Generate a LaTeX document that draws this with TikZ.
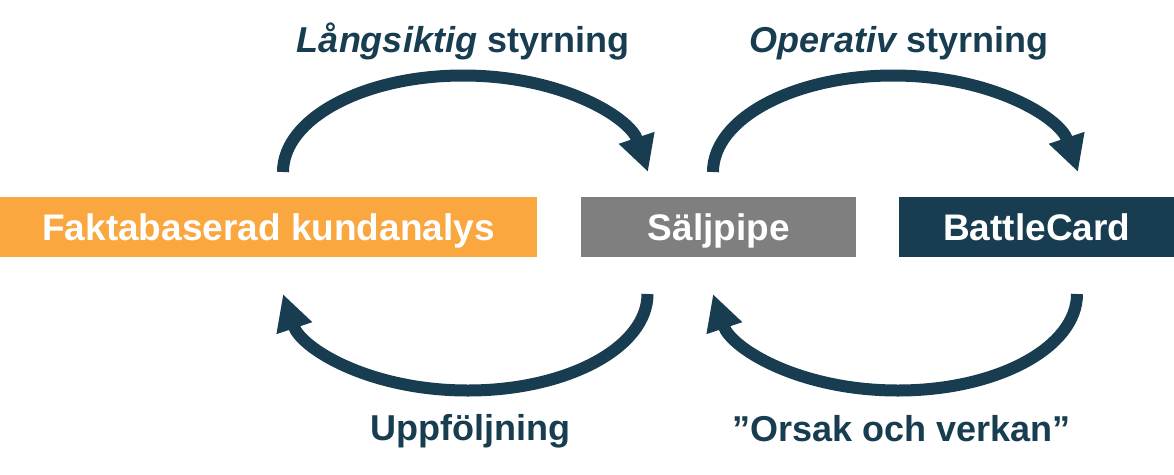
\documentclass[tikz,border=0pt]{standalone}
\usepackage{fontspec}
\setmainfont{Liberation Sans}
\usepackage{xcolor}
\usetikzlibrary{positioning,arrows.meta}

\definecolor{navy}{HTML}{183D51}
\definecolor{kund}{HTML}{F9A73E}
\definecolor{pipegray}{HTML}{7F7F7F}

\tikzset{
	box/.style={rectangle,inner sep=0pt,minimum height=60pt,text=white,
		text height=26.6pt,text depth=0pt,
		font=\fontsize{37}{40}\selectfont\bfseries},
	lbl/.style={anchor=base,text=navy,inner sep=0pt,
		font=\fontsize{36}{40}\selectfont\bfseries},
	loop/.style={draw=navy,line width=12pt,
		-{Triangle[length=36pt,width=35pt]},navy},
}

\begin{document}
\begin{tikzpicture}[x=1pt,y=-1pt]
		\useasboundingbox (0,0) rectangle (1174,474);
		% boxes
		\node[box,fill=kund,minimum width=537pt] at (268.5,227) (fakta) {Faktabaserad kundanalys};
		\node[box,fill=pipegray,minimum width=275pt,right=44pt of fakta] (pipe) {Säljpipe};
		\node[box,fill=navy,minimum width=276pt,right=42pt of pipe] (battle) {BattleCard};
		%
		\coordinate (s1) at (283,172);
		\coordinate (m1) at (463,75.5);
		\coordinate (e1) at (648,172);
		\coordinate (s2) at (713,172);
		\coordinate (m2) at (893,75.5);
		\coordinate (e2) at (1078,172);
		\coordinate (s3) at (647.5,294);
		\coordinate (m3) at (468,390.5);
		\coordinate (e3) at (283,294);
		\coordinate (s4) at (1077,294);
		\coordinate (m4) at (898,390.5);
		\coordinate (e4) at (713,294);
		%
		\draw[loop] (s1) .. controls +(0,-53.3) and +(-99.4,0) .. (m1) .. controls +(99.4,0) and +(-18,-54) .. (e1);
		\draw[loop] (s2) .. controls +(0,-53.3) and +(-99.4,0) .. (m2) .. controls +(99.4,0) and +(-18,-54) .. (e2);
		\draw[loop] (s3) .. controls +(0,53.3) and +(99.4,0) .. (m3) .. controls +(-99.4,0) and +(18,54) .. (e3);
		\draw[loop] (s4) .. controls +(0,53.3) and +(99.4,0) .. (m4) .. controls +(-99.4,0) and +(18,54) .. (e4);
		% labels
		\node[lbl] at (463,52) (lang) {\itshape Långsiktig\upshape{} styrning};
		\node[lbl] at (899,52) (oper) {\itshape Operativ\upshape{} styrning};
		\node[lbl] at (470,440) (uppf) {Uppföljning};
		\node[lbl] at (901.5,441) (orsak) {”Orsak och verkan”};
	\end{tikzpicture}
\end{document}
